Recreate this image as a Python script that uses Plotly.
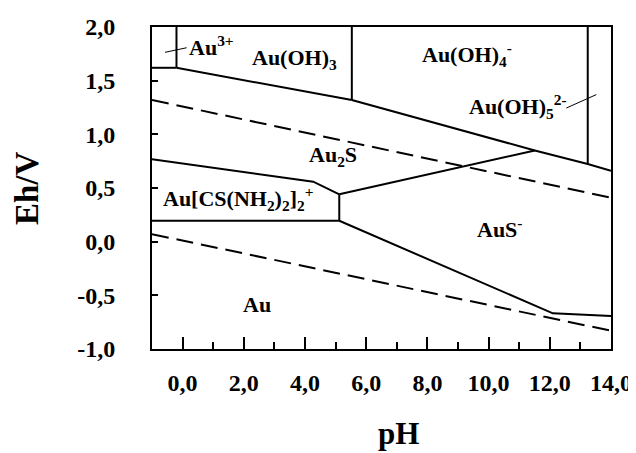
import plotly.graph_objects as go

# ---- boundary lines (pH, Eh/V) ----
au3_au_ph = [-1.0, -0.2]
au3_au_eh = [1.62, 1.62]
au3_auoh3_ph = [-0.2, -0.2]
au3_auoh3_eh = [2.0, 1.62]
auoh3_au_ph = [-0.2, 5.53]
auoh3_au_eh = [1.62, 1.32]
auoh3_auoh4_ph = [5.53, 5.53]
auoh3_auoh4_eh = [2.0, 1.32]
auoh4_au_ph = [5.53, 11.51, 13.24, 14.0]
auoh4_au_eh = [1.32, 0.85, 0.724, 0.66]
auoh4_auoh5_ph = [13.24, 13.24]
auoh4_auoh5_eh = [2.0, 0.724]
thio_au2s_ph = [-1.0, 4.27, 5.12]
thio_au2s_eh = [0.767, 0.559, 0.441]
thio_vert_ph = [5.12, 5.12]
thio_vert_eh = [0.441, 0.195]
thio_au_ph = [-1.0, 5.12]
thio_au_eh = [0.195, 0.195]
au2s_aus_ph = [5.12, 11.51]
au2s_aus_eh = [0.441, 0.85]
au_aus_ph = [5.12, 12.1, 14.0]
au_aus_eh = [0.195, -0.668, -0.693]
o2_ph = [-1.0, 14.0]
o2_eh = [1.32, 0.41]
h2_ph = [-1.0, 14.0]
h2_eh = [0.07, -0.83]

# leader lines
lead_au3_ph = [-0.575, 0.133]
lead_au3_eh = [1.764, 1.807]
lead_auoh5_ph = [12.54, 13.52]
lead_auoh5_eh = [1.245, 1.37]

# region labels
label_texts = ["Au<sup>3+</sup>", "Au(OH)<sub>3</sub>", "Au(OH)<sub>4</sub><sup>-</sup>",
               "Au(OH)<sub>5</sub><sup>2-</sup>", "Au<sub>2</sub>S",
               "Au[CS(NH<sub>2</sub>)<sub>2</sub>]<sub>2</sub><sup>+</sup>",
               "AuS<sup>-</sup>", "Au"]
label_ph = [0.15, 2.2, 7.75, 9.29, 4.05, -0.72, 9.55, 1.9]
label_eh = [1.82, 1.70, 1.74, 1.26, 0.80, 0.40, 0.13, -0.59]

# axis ticks
x_tickvals = [0, 2, 4, 6, 8, 10, 12, 14]
x_ticktext = ["0,0", "2,0", "4,0", "6,0", "8,0", "10,0", "12,0", "14,0"]
y_tickvals = [-1.0, -0.5, 0.0, 0.5, 1.0, 1.5, 2.0]
y_ticktext = ["-1,0", "-0,5", "0,0", "0,5", "1,0", "1,5", "2,0"]

FONT = "Liberation Serif"

fig = go.Figure()

solid = [
    (au3_au_ph, au3_au_eh), (au3_auoh3_ph, au3_auoh3_eh),
    (auoh3_au_ph, auoh3_au_eh), (auoh3_auoh4_ph, auoh3_auoh4_eh),
    (auoh4_au_ph, auoh4_au_eh), (auoh4_auoh5_ph, auoh4_auoh5_eh),
    (thio_au2s_ph, thio_au2s_eh), (thio_vert_ph, thio_vert_eh),
    (thio_au_ph, thio_au_eh), (au2s_aus_ph, au2s_aus_eh),
    (au_aus_ph, au_aus_eh),
]
for xs, ys in solid:
    fig.add_trace(go.Scatter(x=xs, y=ys, mode="lines",
                             line=dict(color="black", width=2), showlegend=False,
                             hoverinfo="skip"))
for xs, ys in [(o2_ph, o2_eh), (h2_ph, h2_eh)]:
    fig.add_trace(go.Scatter(x=xs, y=ys, mode="lines",
                             line=dict(color="black", width=2, dash="17px,8px"),
                             showlegend=False, hoverinfo="skip"))
for xs, ys in [(lead_au3_ph, lead_au3_eh), (lead_auoh5_ph, lead_auoh5_eh)]:
    fig.add_trace(go.Scatter(x=xs, y=ys, mode="lines",
                             line=dict(color="black", width=1), showlegend=False,
                             hoverinfo="skip"))

for t, px, py in zip(label_texts, label_ph, label_eh):
    fig.add_annotation(x=px, y=py, text="<b>" + t + "</b>", showarrow=False,
                       xanchor="left", yanchor="middle",
                       font=dict(family=FONT, size=22, color="black"))

# axis titles (positions relative to plot area)
W = 611 - 152
H = 349 - 27
fig.add_annotation(x=(398 - 152) / W, y=-(433 - 349) / H,
                   xref="paper", yref="paper", text="<b>pH</b>", showarrow=False,
                   xanchor="center", yanchor="middle",
                   font=dict(family=FONT, size=31, color="black"))
fig.add_annotation(x=-(152 - 27) / W, y=0.5, xref="paper", yref="paper",
                   text="<b>Eh/V</b>", textangle=-90, showarrow=False,
                   xanchor="center", yanchor="middle",
                   font=dict(family=FONT, size=33, color="black"))

fig.update_xaxes(range=[-1, 14], tickvals=x_tickvals, ticktext=x_ticktext,
                 ticks="inside", ticklen=12, tickwidth=2, tickcolor="black",
                 minor=dict(dtick=1, tick0=0, ticks="inside", ticklen=7,
                            tickwidth=2, tickcolor="black"),
                 showline=True, linecolor="black", linewidth=2, mirror=True,
                 showgrid=False, zeroline=False, ticklabelstandoff=11,
                 automargin=False, ticklabeloverflow="allow",
                 tickfont=dict(family=FONT, size=24, color="black", weight="bold"))
fig.update_yaxes(range=[-1, 2], tickvals=y_tickvals, ticktext=y_ticktext,
                 ticks="inside", ticklen=6, tickwidth=2, tickcolor="black",
                 showline=True, linecolor="black", linewidth=2, mirror=True,
                 showgrid=False, zeroline=False, ticklabelstandoff=30,
                 automargin=False, ticklabeloverflow="allow",
                 tickfont=dict(family=FONT, size=24, color="black", weight="bold"))

# the page body adds an 8px margin, so the figure is sized to fit the window
fig.update_layout(width=628, height=445, plot_bgcolor="white",
                  paper_bgcolor="white",
                  margin=dict(l=144, r=25, t=19, b=104), showlegend=False)

fig.write_html("out.html")
